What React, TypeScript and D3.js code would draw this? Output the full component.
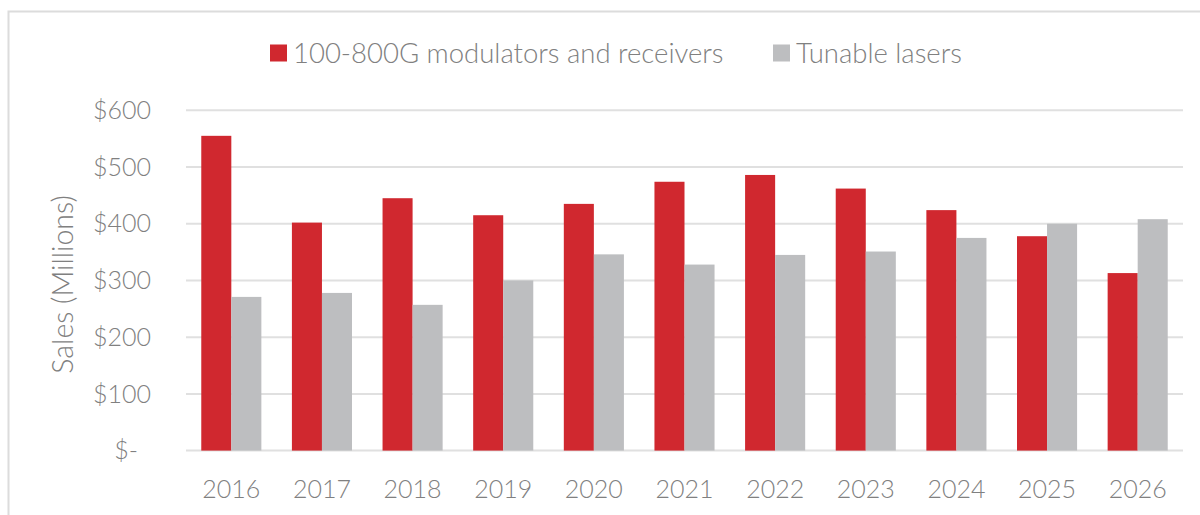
import React, { useEffect, useRef } from 'react';
import * as d3 from 'd3';

const years = ['2016', '2017', '2018', '2019', '2020', '2021', '2022', '2023', '2024', '2025', '2026'];
const modulators = [555, 402, 445, 415, 435, 474, 486, 462, 424, 378, 313];
const tunableLasers = [271, 278, 257, 300, 346, 328, 345, 351, 375, 400, 408];
const seriesNames = ['100-800G modulators and receivers', 'Tunable lasers'];
const seriesColors = ['#d0282f', '#bdbec0'];
const yTicks = [0, 100, 200, 300, 400, 500, 600];
const yTitle = 'Sales (Millions)';

const FONT = 'Lato, "Open Sans", sans-serif';
const TEXT = '#808080';

const App = () => {
  const svgRef = useRef<SVGSVGElement>(null);

  useEffect(() => {
    const svg = d3.select(svgRef.current);
    svg.selectAll('*').remove();

    const W = 1200, H = 515;
    const plot = { left: 186, right: 1183, top: 110.3, bottom: 450.6 };

    svg.append('rect').attr('width', W).attr('height', H).attr('fill', '#fff');

    // frame of the chart area
    svg.append('path')
      .attr('d', `M8.5,${H} V11.5 H${W}`)
      .attr('fill', 'none')
      .attr('stroke', '#dcdcdc')
      .attr('stroke-width', 2);

    const x = d3.scaleBand<string>()
      .domain(years)
      .range([plot.left, plot.right])
      .paddingInner(0.337)
      .paddingOuter(0.1685);

    const xSub = d3.scaleBand<number>()
      .domain([0, 1])
      .range([0, x.bandwidth()]);

    const y = d3.scaleLinear().domain([0, 600]).range([plot.bottom, plot.top]);

    // gridlines
    svg.append('g')
      .selectAll('line')
      .data(yTicks)
      .enter().append('line')
      .attr('x1', plot.left)
      .attr('x2', plot.right)
      .attr('y1', d => y(d))
      .attr('y2', d => y(d))
      .attr('stroke', '#e0e0e0')
      .attr('stroke-width', 2);

    // y tick labels
    svg.append('g')
      .selectAll('text')
      .data(yTicks)
      .enter().append('text')
      .attr('x', d => (d === 0 ? 138 : 151))
      .attr('y', d => y(d))
      .attr('dy', '0.35em')
      .attr('text-anchor', 'end')
      .attr('font-family', FONT)
      .attr('font-weight', 300)
      .attr('font-size', 25)
      .attr('fill', TEXT)
      .text(d => (d === 0 ? '$-' : `$${d}`));

    // y title
    svg.append('text')
      .attr('transform', `translate(63,${(plot.top + plot.bottom) / 2 + 4}) rotate(-90)`)
      .attr('dy', '0.35em')
      .attr('text-anchor', 'middle')
      .attr('font-family', FONT)
      .attr('font-weight', 300)
      .attr('font-size', 28.5)
      .attr('fill', TEXT)
      .text(yTitle);

    // bars
    const seriesData = [modulators, tunableLasers];
    seriesData.forEach((vals, si) => {
      svg.append('g')
        .selectAll('rect')
        .data(vals)
        .enter().append('rect')
        .attr('x', (d, i) => x(years[i])! + xSub(si)!)
        .attr('width', xSub.bandwidth())
        .attr('y', d => y(d))
        .attr('height', d => plot.bottom - y(d))
        .attr('fill', seriesColors[si]);
    });

    // x labels
    svg.append('g')
      .selectAll('text')
      .data(years)
      .enter().append('text')
      .attr('x', d => x(d)! + x.bandwidth() / 2)
      .attr('y', 489)
      .attr('dy', '0.35em')
      .attr('text-anchor', 'middle')
      .attr('font-family', FONT)
      .attr('font-weight', 300)
      .attr('font-size', 25)
      .attr('fill', TEXT)
      .text(d => d);

    // legend
    const legendX = [270, 773];
    seriesNames.forEach((name, i) => {
      const g = svg.append('g').attr('transform', `translate(${legendX[i]},53)`);
      g.append('rect')
        .attr('x', 0)
        .attr('y', -8.5)
        .attr('width', 17)
        .attr('height', 17)
        .attr('fill', seriesColors[i]);
      g.append('text')
        .attr('x', 23)
        .attr('y', 0)
        .attr('dy', '0.35em')
        .attr('font-family', FONT)
        .attr('font-weight', 300)
        .attr('font-size', 27.5)
        .attr('fill', TEXT)
        .text(name);
    });
  }, []);

  return (
    <svg
      ref={svgRef}
      width={1200}
      height={515}
      style={{ position: 'absolute', left: 0, top: 0 }}
    />
  );
};

export default App;
